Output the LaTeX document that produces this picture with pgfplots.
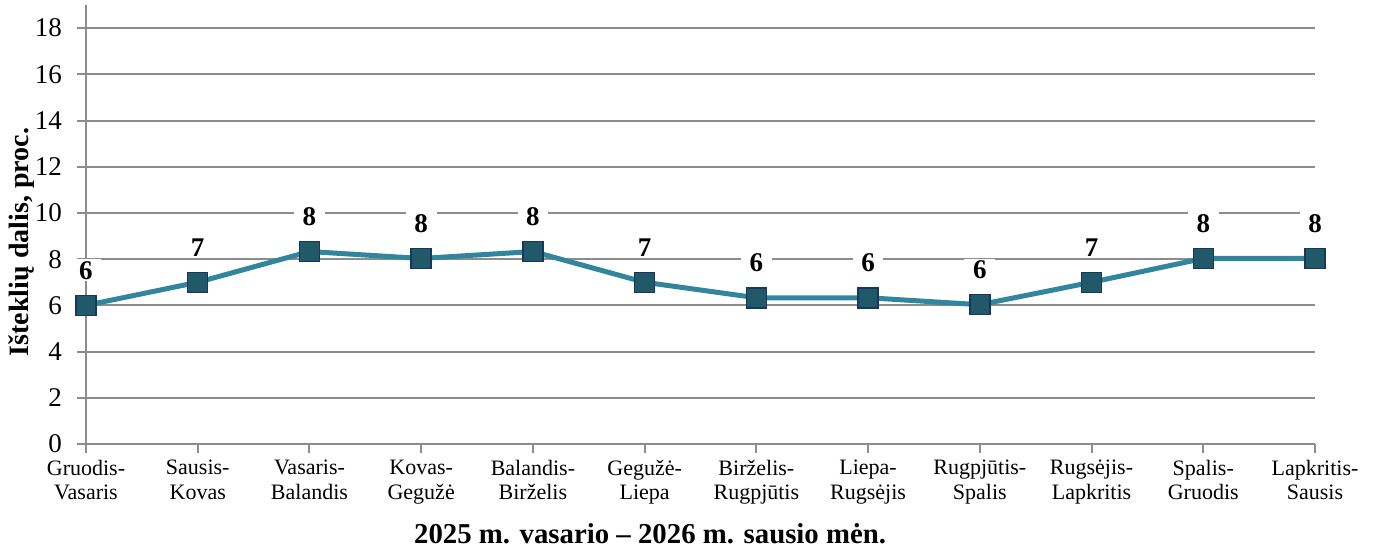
\documentclass[border=0pt]{standalone}
\usepackage{fontspec}
\setmainfont{Liberation Serif}
\usepackage{pgfplots}
\pgfplotsset{compat=1.18}
\definecolor{linec}{HTML}{31859C}
\definecolor{markf}{HTML}{215968}
\definecolor{marke}{HTML}{17375E}
\definecolor{gridc}{HTML}{8C8C8C}
\begin{document}
\begin{tikzpicture}
\useasboundingbox (-43pt,-52pt) rectangle (644.5pt,222pt);
\begin{axis}[
  at={(0,0)}, anchor=south west,
  scale only axis, width=614.5pt, height=219.5pt,
  xmin=0, xmax=11, ymin=0, ymax=19,
  axis x line*=bottom, axis y line*=left,
  axis line style={draw=gridc, line width=1pt, -},
  tick align=outside, major tick length=4.5pt,
  tick style={draw=gridc, line width=1pt},
  ymajorgrids, grid style={draw=gridc, line width=1pt},
  ytick={0,2,...,18},
  xtick={0,...,11},
  xticklabels={{Gruodis-\\Vasaris},{Sausis-\\Kovas},{Vasaris-\\Balandis},{Kovas-\\Gegužė},{Balandis-\\Birželis},{Gegužė-\\Liepa},{Birželis-\\Rugpjūtis},{Liepa-\\Rugsėjis},{Rugpjūtis-\\Spalis},{Rugsėjis-\\Lapkritis},{Spalis-\\Gruodis},{Lapkritis-\\Sausis}},
  xticklabel style={align=center, font=\fontsize{11}{12.3}\selectfont, text depth=0pt},
  yticklabel style={font=\fontsize{13.5}{15}\selectfont, xshift=-4pt},
  /pgf/number format/assume math mode=true,
  ylabel={Išteklių dalis, proc.},
  ylabel style={font=\bfseries\fontsize{14}{16}\selectfont, at={(axis description cs:-0.052,0.46)}, anchor=center},
  xlabel={2025 m. vasario – 2026 m. sausio mėn.},
  xlabel style={font=\bfseries\fontsize{14.4}{16}\selectfont, at={(axis description cs:0.459,0)}, anchor=north, yshift=-36pt},
  clip=false,
]
\addplot[color=linec, line width=2.5pt, mark=square*, mark size=5pt,
  mark options={fill=markf, draw=marke, line width=0.75pt},
  nodes near coords={\pgfmathprintnumber[fixed,precision=0]{\pgfplotspointmeta}},
  every node near coord/.append style={font=\bfseries\fontsize{13.5}{15}\selectfont, fill=white, inner xsep=4.3pt, inner ysep=1pt, anchor=center, yshift=17.5pt, text=black}]
coordinates {
(0,6) (1,7) (2,8.33) (3,8.03) (4,8.33) (5,7) (6,6.33) (7,6.33) (8,6.03) (9,7) (10,8.03) (11,8.03)
};
\end{axis}
\end{tikzpicture}
\end{document}
